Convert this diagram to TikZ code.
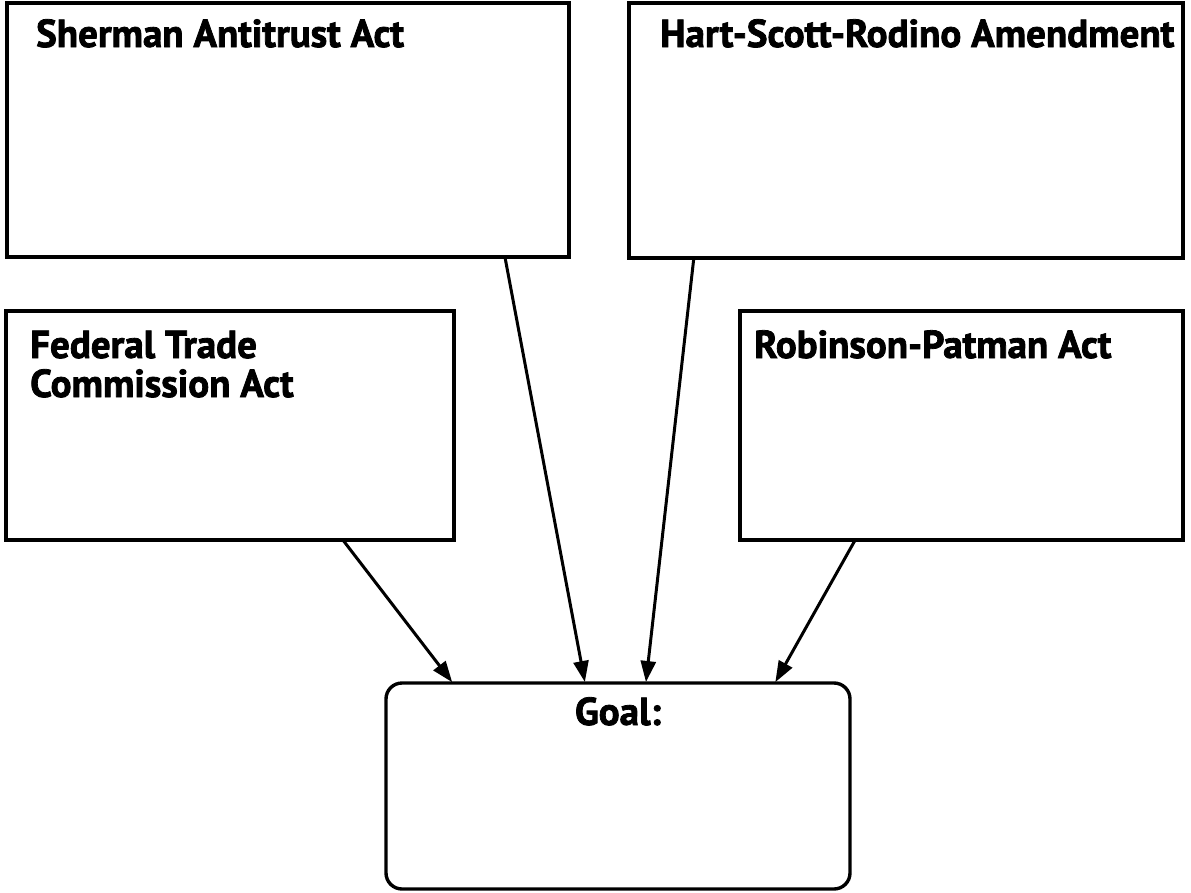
\documentclass[tikz,border=0pt]{standalone}
\usepackage{fontspec}
\setmainfont{PT Sans}[BoldFeatures={FakeBold=2}]
\usetikzlibrary{arrows.meta,calc}
\tikzset{
  box/.style={draw, line width=3.4bp, rectangle, anchor=north west, inner sep=0pt, outer sep=0pt},
  goalbox/.style={box, rounded corners=16bp},
  title/.style={anchor=base west, inner sep=0pt, font=\fontsize{39bp}{39bp}\selectfont\bfseries, align=left},
  conn/.style={line width=3bp, -{Triangle[length=21bp,width=15bp]}, shorten >=1bp}
}
\begin{document}
\begin{tikzpicture}[x=1bp,y=-1bp]
\useasboundingbox (0,0) rectangle (1191,893);
\node[box, minimum width=562bp, minimum height=254bp] (sherman) at (7,3) {};
\node[box, minimum width=554bp, minimum height=255bp] (hsr) at (629,3) {};
\node[box, minimum width=448bp, minimum height=229bp] (ftc) at (6,311) {};
\node[box, minimum width=443bp, minimum height=229bp] (rp) at (740,311) {};
\node[goalbox, minimum width=464bp, minimum height=206bp] (goal) at (386,683) {};
\node[title] (tsherman) at (36,47) {Sherman Antitrust Act};
\node[title] (thsr) at (660,47) {Hart-Scott-Rodino Amendment};
\node[title] (tftc) at (30,397) {Federal Trade\\Commission Act};
\node[title] (trp) at (754,358) {Robinson-Patman Act};
\node[title, anchor=base] (tgoal) at (618,725) {Goal:};
\draw[conn] ($(sherman.south west)!0.886!(sherman.south east)$) -- ($(goal.north west)!0.429!(goal.north east)$);
\draw[conn] ($(hsr.south west)!0.117!(hsr.south east)$) -- ($(goal.north west)!0.56!(goal.north east)$);
\draw[conn] ($(ftc.south west)!0.752!(ftc.south east)$) -- ($(goal.north west)!0.144!(goal.north east)$);
\draw[conn] ($(rp.south west)!0.26!(rp.south east)$) -- ($(goal.north west)!0.838!(goal.north east)$);
\end{tikzpicture}
\end{document}
